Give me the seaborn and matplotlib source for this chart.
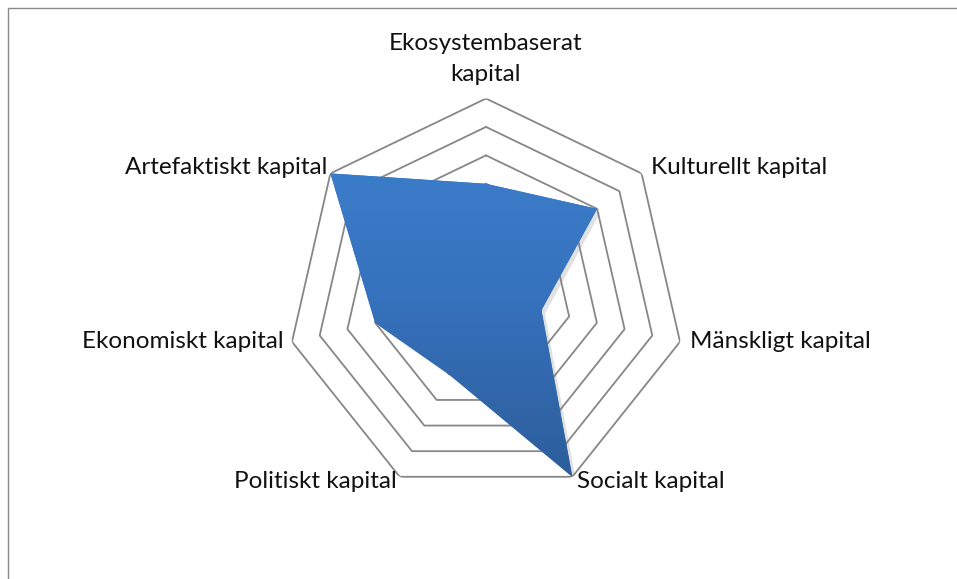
import numpy as np
import pandas as pd
import matplotlib
matplotlib.use("Agg")
from matplotlib import pyplot as plt
from matplotlib import patheffects
from matplotlib.colors import LinearSegmentedColormap
from matplotlib.patches import Rectangle
import seaborn as sns

# data
categories = ["Ekosystembaserat\nkapital", "Kulturellt kapital", "Mänskligt kapital",
              "Socialt kapital", "Politiskt kapital", "Ekonomiskt kapital",
              "Artefaktiskt kapital"]
values = [4, 5, 2, 7, 3, 4, 7]
ring_levels = [1, 2, 3, 4, 5, 6, 7]
r_max = 7

sns.set_theme(style="white")
plt.rcParams['font.family'] = ['Lato', 'DejaVu Sans']

fig = plt.figure(figsize=(9.57, 5.79), dpi=100)
fig.patch.set_facecolor("white")

# chart area border (runs past right and bottom edges)
fig.patches.append(Rectangle((8 / 957, -0.2), 1.1, 1.2 - 8 / 579,
                             transform=fig.transFigure, fill=False,
                             edgecolor="#8a8a8a", linewidth=1.0))

pos = [287 / 957, 82.5 / 579, 398 / 957, 398 / 579]
ax = fig.add_axes(pos, projection="polar")
ax.set_theta_offset(np.pi / 2)
ax.set_theta_direction(-1)
ax.set_ylim(0, r_max)
ax.grid(False)
ax.spines["polar"].set_visible(False)
ax.set_xticks([])
ax.set_yticks([])
ax.set_facecolor("none")

n = len(categories)
angles = np.linspace(0, 2 * np.pi, n, endpoint=False)

# heptagon rings
rows = []
for lvl in ring_levels:
    for i in range(n + 1):
        rows.append({"theta": angles[i] if i < n else 2 * np.pi, "r": lvl, "ring": lvl})
rings = pd.DataFrame(rows)
sns.lineplot(data=rings, x="theta", y="r", hue="ring", units="ring", estimator=None,
             sort=False, palette=["#878787"] * len(ring_levels), linewidth=1.3,
             legend=False, ax=ax)
ax.set_xlabel("")
ax.set_ylabel("")
ax.set_ylim(0, r_max)

# filled series
th = np.append(angles, angles[0])
vv = np.append(values, values[0])
poly = ax.fill(th, vv, color="#3670b9", linewidth=0, zorder=5)[0]
poly.set_path_effects([patheffects.SimplePatchShadow(offset=(2.5, -2.5), alpha=0.22,
                                                     shadow_rgbFace="#777777"),
                       patheffects.Normal()])

# gradient overlay clipped to the polygon
gax = fig.add_axes(pos)
gax.set_axis_off()
cmap = LinearSegmentedColormap.from_list("blue", ["#3e82d1", "#3672bd", "#2c5b97"])
grad = np.linspace(0, 1, 256).reshape(-1, 1)
im = gax.imshow(grad, cmap=cmap, extent=[0, 1, 0, 1], aspect="auto", origin="upper")
gax.set_xlim(0, 1)
gax.set_ylim(0, 1)
im.set_clip_path(poly)

# axis labels
offsets = [(0, 10), (6.5, 4), (7, 0), (3, -3.5), (-2, -3.5), (-6, 0), (-2, 4)]
aligns = [("center", "bottom"), ("left", "center"), ("left", "center"),
          ("left", "center"), ("right", "center"), ("right", "center"),
          ("right", "center")]
for ang, lab, off, (ha, va) in zip(angles, categories, offsets, aligns):
    ax.annotate(lab, xy=(ang, r_max), xytext=off, textcoords="offset points",
                ha=ha, va=va, fontsize=17.5, color="#111111",
                linespacing=1.55, annotation_clip=False)

fig.savefig("out.png", dpi=100)
